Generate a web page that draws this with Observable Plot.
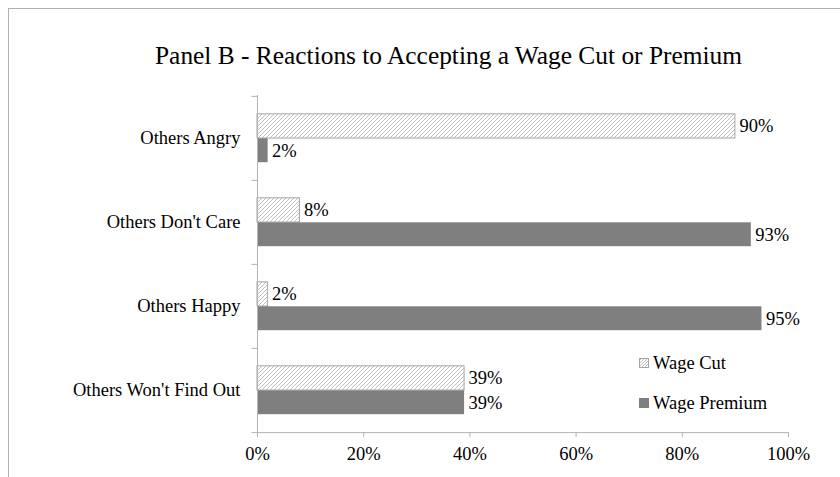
<!DOCTYPE html>
<html>
<head>
<meta charset="utf-8">
<script src="https://cdn.jsdelivr.net/npm/d3@7"></script>
<script src="https://cdn.jsdelivr.net/npm/@observablehq/plot@0.6"></script>
<style>
  html, body { margin: 0; padding: 0; background: #fff; }
  #wrap { position: relative; width: 840px; height: 477px; overflow: hidden; font-family: "Liberation Serif", "Times New Roman", serif; }
  #frame { position: absolute; left: 8px; top: 8px; width: 900px; height: 600px; border-left: 1px solid #b0b0b0; border-top: 1px solid #b0b0b0; }
  #title { position: absolute; left: 0; top: 40px; width: 897px; text-align: center; font-size: 25.4px; line-height: 30px; color: #000; white-space: nowrap; }
  #chart { position: absolute; left: 0; top: 0; }
  #legend { position: absolute; left: 639px; top: 351px; font-size: 18.5px; color: #000; }
  .li { display: flex; align-items: center; height: 24px; margin-bottom: 16px; }
  .li svg { margin-right: 4px; }
</style>
</head>
<body>
<div id="wrap">
  <div id="frame"></div>
  <div id="title">Panel B - Reactions to Accepting a Wage Cut or Premium</div>
  <div id="chart"></div>
  <div id="legend"></div>
</div>
<script>
const categories = ["Others Angry", "Others Don't Care", "Others Happy", "Others Won't Find Out"];
const series = ["Wage Cut", "Wage Premium"];
const wageCut = [0.90, 0.08, 0.02, 0.39];
const wagePremium = [0.02, 0.93, 0.95, 0.39];
const xTicks = [0, 0.2, 0.4, 0.6, 0.8, 1.0];

const cutData = categories.map((c, i) => ({category: c, series: series[0], value: wageCut[i]}));
const premData = categories.map((c, i) => ({category: c, series: series[1], value: wagePremium[i]}));

const marginTop = 95, marginBottom = 45, H = 477;
const band = (H - marginTop - marginBottom) / categories.length;
const outerPad = 17.8, barH = 24.5;
const fmt = d3.format(".0%");
const axisColor = "#b3b3b3";
const serif = "'Liberation Serif', 'Times New Roman', serif";

const chart = Plot.plot({
  width: 840,
  height: H,
  marginLeft: 257,
  marginRight: 52,
  marginTop,
  marginBottom,
  style: {fontFamily: serif, fontSize: "18.5px", color: "#000", background: "transparent"},
  x: {domain: [0, 1], ticks: xTicks, tickFormat: fmt},
  y: {domain: categories, padding: 0},
  marks: [
    Plot.barX(cutData, {x: "value", y: "category", fill: "url(#hatch)", stroke: "#a6a6a6", strokeWidth: 1,
      insetTop: outerPad, insetBottom: band - outerPad - barH}),
    Plot.barX(premData, {x: "value", y: "category", fill: "#7f7f7f",
      insetTop: outerPad + barH, insetBottom: outerPad}),
    Plot.text(cutData, {x: "value", y: "category", text: d => fmt(d.value), textAnchor: "start", dx: 4,
      dy: -band / 2 + outerPad + barH / 2, fill: "#000", fontSize: 18.5}),
    Plot.text(premData, {x: "value", y: "category", text: d => fmt(d.value), textAnchor: "start", dx: 4,
      dy: -band / 2 + outerPad + barH * 1.5, fill: "#000", fontSize: 18.5}),
    Plot.ruleX([0], {stroke: axisColor}),
    Plot.ruleY(categories, {y: d => d, x1: -0.0105, x2: 0, dy: -band / 2, stroke: axisColor}),
    Plot.ruleY([categories[categories.length - 1]], {y: d => d, x1: -0.0105, x2: 1, dy: band / 2, stroke: axisColor}),
    Plot.axisX({ticks: xTicks, tickFormat: fmt, tickSize: 5, tickPadding: 9, stroke: axisColor, fill: "#000", label: null, fontSize: 18.5}),
    Plot.axisY({tickSize: 0, tickPadding: 17, label: null, fill: "#000", fontSize: 18.5})
  ]
});

const ns = "http://www.w3.org/2000/svg";
const defs = document.createElementNS(ns, "defs");
defs.innerHTML = `<pattern id="hatch" patternUnits="userSpaceOnUse" width="4" height="4">
  <rect width="4" height="4" fill="#fff"/>
  <path d="M-1,1 l2,-2 M0,4 l4,-4 M3,5 l2,-2" stroke="#a3a3a3" stroke-width="0.7"/>
</pattern>`;
chart.insertBefore(defs, chart.firstChild);
document.getElementById("chart").appendChild(chart);

const legend = document.getElementById("legend");
const swatches = [
  `<svg width="10" height="10"><defs><pattern id="hatchL" patternUnits="userSpaceOnUse" width="3" height="3"><rect width="3" height="3" fill="#fff"/><path d="M-1,1 l2,-2 M0,3 l3,-3 M2,4 l2,-2" stroke="#a3a3a3" stroke-width="0.7"/></pattern></defs><rect x="0.5" y="0.5" width="9" height="9" fill="url(#hatchL)" stroke="#a6a6a6"/></svg>`,
  `<svg width="10" height="10"><rect width="10" height="10" fill="#7f7f7f"/></svg>`
];
series.forEach((s, i) => {
  const div = document.createElement("div");
  div.className = "li";
  div.innerHTML = swatches[i] + `<span>${s}</span>`;
  legend.appendChild(div);
});
</script>
</body>
</html>
